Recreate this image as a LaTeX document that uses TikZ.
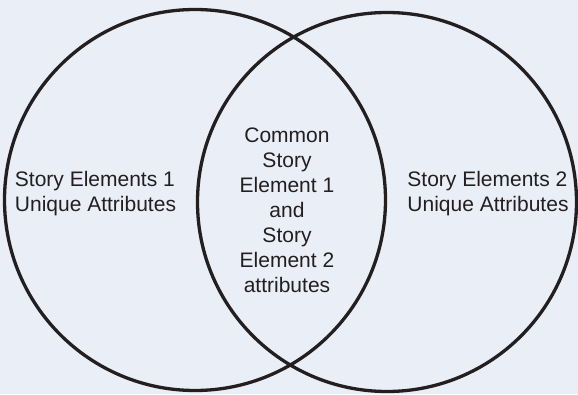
\documentclass[tikz,border=0pt]{standalone}
\usepackage{fontspec}
\setmainfont{Liberation Sans}
\usepackage{tikz}
\usetikzlibrary{positioning}
\definecolor{Venn-bg}{RGB}{234,238,246}
\definecolor{Venn-ink}{RGB}{35,31,32}

\begin{document}
\begin{tikzpicture}[x=1pt, y=1pt]
    \tikzset{ set/.style  ={draw=Venn-ink, circle, line width=3.3pt, inner sep=0pt} }
    \tikzset{ lbl/.style  ={text=Venn-ink, inner sep=0pt, font=\fontsize{21}{25}\selectfont} }

    % background and page size
    \fill[Venn-bg] (0,0) rectangle (578,394);
    \useasboundingbox (0,0) rectangle (578,394);

    \node[set, minimum size=381pt] (s1) at (195,194) {};
    \node[set, minimum size=379pt] (s2) at (387,192) {};

    \node[lbl, align=left  ] (u1) at ( 95.5,200) {Story Elements 1\\Unique Attributes};
    \node[lbl, align=left  ] (u2) at (488.0,200) {Story Elements 2\\Unique Attributes};
    \node[lbl, align=center] (cm) at (287.0,183.5) {Common\\Story\\Element 1\\and\\Story\\Element 2\\attributes};
\end{tikzpicture}
\end{document}
